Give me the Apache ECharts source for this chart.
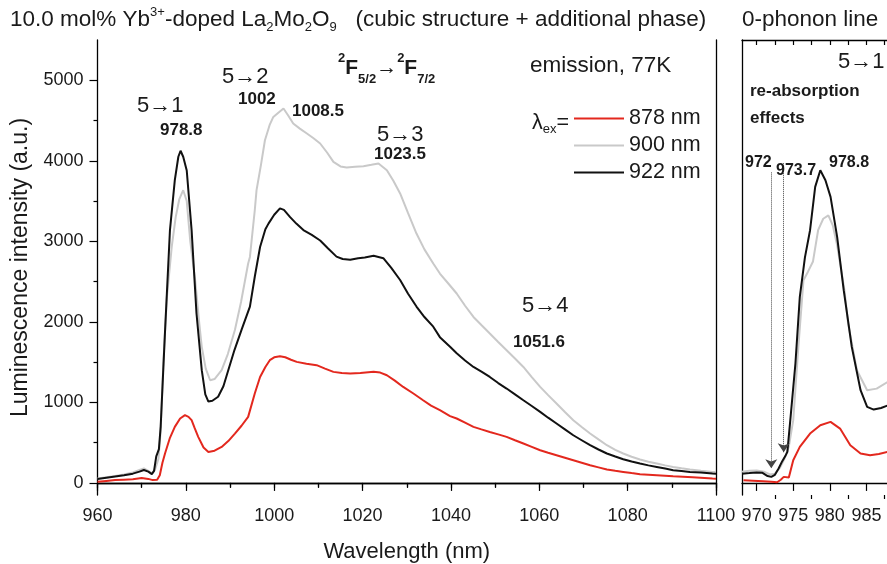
<!DOCTYPE html>
<html><head><meta charset="utf-8">
<script src="https://cdn.jsdelivr.net/npm/echarts@6/dist/echarts.min.js"></script>
<style>html,body{margin:0;padding:0;background:#fff}#c{width:887px;height:564px}</style>
</head><body><div id="c"></div>
<script>
// ---- data ----
const seriesNames = ['878 nm', '900 nm', '922 nm'];
const seriesColors = ['#e3281e', '#c9c9c9', '#111111'];

// main panel: wavelength (nm) / intensity (a.u.)
const wl878 = [960,962,964,966,968,970,971.5,972.5,973.5,974.1,974.7,975.3,976.4,977.5,978.7,979.8,980.6,981.3,982,982.8,984,985.1,986.5,988.1,989.6,991.1,992.6,994.1,995.6,996.8,998,999,1000,1001.3,1002.5,1003.8,1005.1,1007.3,1009.6,1011.5,1013.4,1015.3,1017.2,1019.5,1022.5,1024,1025.5,1027.3,1029.2,1031.5,1033.7,1035.5,1037.5,1039.8,1041.3,1043.2,1045.1,1046.9,1048.8,1050.7,1052.6,1054.5,1056.4,1058.3,1060.2,1062,1063.9,1065.8,1067.7,1069.6,1071.5,1073.4,1075.3,1077.2,1079,1080.9,1082.8,1086.6,1090.3,1094.7,1099.2,1100];
const int878 = [15,25,35,40,45,60,50,35,40,96,250,369,560,696,800,841,820,779,680,572,440,385,400,447,520,613,710,820,1110,1316,1440,1524,1560,1573,1560,1530,1503,1480,1462,1420,1379,1365,1358,1365,1379,1370,1337,1270,1192,1110,1027,960,903,830,800,748,696,665,633,603,572,530,489,448,406,375,344,313,282,251,220,193,166,150,137,122,108,95,83,70,55,53];

const wl900 = [960,962,964,966,968,969.5,970.5,971.5,972.3,973,973.8,974.3,974.9,975.7,976.8,977.7,978.5,979.4,980.2,981,982.1,983,983.6,984.5,985.5,986.5,988.1,989.5,991.1,992.5,994.1,994.5,995.6,996,997,997.9,999,999.8,1001,1002.1,1003.2,1004.3,1005.8,1007.4,1008.9,1010.4,1012,1013.4,1015,1016.4,1018.3,1020.2,1022,1023.6,1025.5,1027,1028.5,1030.3,1032.2,1034,1036,1037.5,1039.5,1041.3,1043.2,1045.1,1047,1048.8,1050.7,1052.6,1054.5,1056.4,1058.3,1060.2,1062,1063.9,1065.8,1067.7,1069.6,1071.5,1073.4,1075.3,1077.2,1079,1080.9,1082.8,1084.7,1086.6,1088.5,1090.3,1092.2,1094.1,1096.6,1099.2,1100];
const int900 = [55,70,85,105,130,160,180,150,120,160,300,650,1480,2300,2930,3300,3520,3635,3500,3000,2520,2000,1690,1420,1275,1290,1400,1600,1900,2250,2725,2806,3386,3635,3950,4255,4450,4545,4600,4650,4560,4463,4400,4339,4280,4215,4100,3986,3930,3917,3925,3933,3950,3966,3883,3750,3594,3350,3097,2900,2725,2600,2470,2352,2200,2061,1955,1855,1750,1648,1545,1440,1315,1192,1090,986,880,779,695,613,540,468,410,365,325,290,263,241,218,199,182,166,150,137,135];

const wl922 = [960,962,964,966,968,969.5,970.5,971.5,972.3,972.8,973.3,973.9,974.3,975.3,976.4,977.5,978.3,978.8,979.4,980.2,981.3,982.4,983.6,984.4,985.1,986,987.3,988.5,989.6,991,992.6,994.5,995.6,996.8,998,998.7,1000,1001.3,1002.2,1003.6,1005,1006.6,1008.5,1010.4,1012.2,1014.1,1015.5,1017.2,1019,1020.5,1022.5,1024.7,1026.5,1028.5,1030.3,1032.2,1034,1036,1037.5,1039.8,1041.3,1043.2,1045.1,1047,1048.8,1050.7,1052.6,1054.5,1056.4,1058.3,1060.2,1062,1063.9,1065.8,1067.7,1069.6,1071.5,1073.4,1075.3,1077.2,1079,1080.9,1082.8,1084.7,1086.6,1088.5,1090.3,1092.2,1094.1,1096.6,1099.2,1100];
const int922 = [50,65,80,95,115,140,160,140,110,150,330,420,700,1900,3140,3760,4050,4125,4050,3880,3140,2110,1400,1100,1010,1020,1070,1200,1400,1650,1900,2190,2560,2930,3150,3220,3330,3410,3390,3300,3220,3140,3080,3010,2910,2810,2780,2770,2790,2800,2820,2790,2670,2520,2350,2190,2060,1940,1810,1690,1610,1520,1440,1380,1316,1240,1172,1100,1027,955,882,810,738,665,592,530,468,415,365,328,294,265,241,218,199,178,158,148,137,128,117,115];

// 0-phonon line panel (zoomed)
const zwl878 = [968.2,969.5,970.9,972,972.8,973.3,973.7,974.4,975,975.9,977.3,978.7,980.1,981.4,982.8,984.2,985.5,986.7,987.9];
const zint878 = [34,28,21,15,8,40,75,67,282,447,613,717,758,675,468,365,344,360,385];
const zwl900 = [968,969,970,971,971.8,972.5,973.2,973.8,974.4,975,975.7,976.4,977,977.7,978.4,979.1,979.8,980.4,981,982,982.5,983.7,985.1,986.4,987.9];
const zint900 = [140,150,155,140,105,115,190,300,450,779,1689,2517,2620,2750,3138,3280,3322,3200,2950,2393,1980,1399,1151,1171,1254];
const zwl922 = [968,969,970,970.8,971.5,972,972.5,973,973.5,973.9,974.2,974.6,975.3,975.9,976.6,977.3,978,978.7,979.4,980.1,981,981.9,983,984.2,985.1,986,987,988];
const zint922 = [115,122,130,125,85,75,100,179,270,330,385,779,1483,2310,2800,3138,3676,3883,3759,3552,3055,2393,1689,1151,944,911,930,965];

// re-absorption arrows
const arrowWl = [972, 973.7];
const arrowTop = [3856, 3970];
const arrowEnd = [183, 380];

// tick values
const mainYTicks = [0,1000,2000,3000,4000,5000];
const mainYMinor = [500,1500,2500,3500,4500];
const zoomXTicks = [970,975,980,985,990];
const zoomXMinor = [972.5,977.5,982.5,987.5];
const zoomXTop = [970,972.5,975,977.5,980,982.5,985,987.5,990];

// ---- chart ----
const FF = "'Liberation Sans', Arial, Helvetica, sans-serif";
const TXT = '#1a1a1a';
const pairs = (x, y) => x.map((v, i) => [v, y[i]]);
const plain = v => String(v);
const chart = echarts.init(document.getElementById('c'), null, {renderer: 'canvas'});

const lineAx = {show: true, lineStyle: {color: '#000', width: 1.3}};
const mainX = [pairs(wl878, int878), pairs(wl900, int900), pairs(wl922, int922)];
const zoomX = [pairs(zwl878, zint878), pairs(zwl900, zint900), pairs(zwl922, zint922)];

const series = [];
for (let i = 0; i < 3; i++) {
  series.push({
    name: seriesNames[i], type: 'line', xAxisIndex: 0, yAxisIndex: 0,
    data: mainX[i], showSymbol: false, symbol: 'none', color: seriesColors[i],
    lineStyle: {width: 2, color: seriesColors[i]}, z: 3 + i
  });
}
for (let i = 0; i < 3; i++) {
  const s = {
    name: seriesNames[i], type: 'line', xAxisIndex: 2, yAxisIndex: 3,
    data: zoomX[i], showSymbol: false, symbol: 'none', color: seriesColors[i],
    lineStyle: {width: 2, color: seriesColors[i]}
  };
  if (i === 2) {
    s.markLine = {
      silent: true, symbol: ['none', 'arrow'], symbolSize: 9,
      lineStyle: {type: 'dotted', color: '#444', width: 1},
      label: {show: false},
      data: arrowWl.map((w, k) => [{coord: [w, arrowTop[k]]}, {coord: [w, arrowEnd[k]]}])
    };
  }
  series.push(s);
}

const T = (x, y, text, size, bold) => ({
  type: 'text', x: x, y: y, z: 100,
  style: {text: text, font: (bold ? 'bold ' : '') + size + 'px ' + FF, fill: TXT, verticalAlign: 'middle', align: 'left'}
});

const option = {
  animation: false,
  backgroundColor: '#fff',
  textStyle: {fontFamily: FF},
  grid: [
    {left: 97.5, top: 40, width: 618.5, height: 455, outerBoundsMode: 'none', containLabel: false},
    {left: 742, top: 40, width: 161, height: 455, outerBoundsMode: 'none', containLabel: false}
  ],
  legend: {
    data: seriesNames, orient: 'vertical', left: 574, top: 107, padding: 0,
    icon: 'rect', itemWidth: 50, itemHeight: 2, itemGap: 4,
    textStyle: {fontSize: 21.5, color: TXT, fontFamily: FF, lineHeight: 23, padding: [0, 0, 0, 0]}
  },
  xAxis: [
    {type: 'value', gridIndex: 0, min: 960, max: 1100, interval: 20,
     axisLine: lineAx, axisTick: {show: true, inside: false, length: 8, lineStyle: {color: '#000', width: 1.2}},
     minorTick: {show: true, splitNumber: 2, length: 4, lineStyle: {color: '#000', width: 1.2}},
     axisLabel: {fontSize: 18, color: TXT, margin: 12, fontFamily: FF, formatter: plain},
     splitLine: {show: false}, minorSplitLine: {show: false},
     name: 'Wavelength (nm)', nameLocation: 'middle', nameGap: 46,
     nameTextStyle: {fontSize: 22, color: TXT, fontFamily: FF}},
    {type: 'value', gridIndex: 0, position: 'top', min: 960, max: 1100, interval: 10,
     axisLine: lineAx, axisTick: {show: true, inside: true, length: 5, lineStyle: {color: '#000', width: 1.2}},
     axisLabel: {show: false}, splitLine: {show: false}},
    {type: 'value', gridIndex: 1, min: 968, max: 990,
     axisLine: lineAx,
     axisTick: {show: true, length: 8, customValues: zoomXTicks, lineStyle: {color: '#000', width: 1.2}},
     axisLabel: {fontSize: 18, color: TXT, margin: 12, customValues: zoomXTicks, fontFamily: FF, formatter: plain},
     splitLine: {show: false}},
    {type: 'value', gridIndex: 1, min: 968, max: 990, position: 'bottom',
     axisLine: {show: false},
     axisTick: {show: true, length: 4, customValues: zoomXMinor, lineStyle: {color: '#000', width: 1.2}},
     axisLabel: {show: false}, splitLine: {show: false}},
    {type: 'value', gridIndex: 1, min: 968, max: 990, position: 'top',
     axisLine: lineAx,
     axisTick: {show: true, inside: true, length: 5, customValues: zoomXTop, lineStyle: {color: '#000', width: 1.2}},
     axisLabel: {show: false}, splitLine: {show: false}}
  ],
  yAxis: [
    {type: 'value', gridIndex: 0, min: -150, max: 5500,
     axisLine: lineAx,
     axisTick: {show: true, length: 8, customValues: mainYTicks, lineStyle: {color: '#000', width: 1.2}},
     axisLabel: {fontSize: 18, color: TXT, margin: 14, customValues: mainYTicks, fontFamily: FF, formatter: plain},
     splitLine: {show: false},
     name: 'Luminescence intensity (a.u.)', nameLocation: 'middle', nameGap: 65,
     nameTextStyle: {fontSize: 23, color: TXT, fontFamily: FF}},
    {type: 'value', gridIndex: 0, min: -150, max: 5500, position: 'left',
     axisLine: {show: false},
     axisTick: {show: true, length: 4, customValues: mainYMinor, lineStyle: {color: '#000', width: 1.2}},
     axisLabel: {show: false}, splitLine: {show: false}},
    {type: 'value', gridIndex: 0, min: -150, max: 5500, position: 'right',
     axisLine: lineAx, axisTick: {show: false}, axisLabel: {show: false}, splitLine: {show: false}},
    {type: 'value', gridIndex: 1, min: -150, max: 5500, position: 'left',
     axisLine: lineAx, axisTick: {show: false}, axisLabel: {show: false}, splitLine: {show: false}}
  ],
  graphic: [
    {type: 'text', x: 10, y: 20, z: 100, style: {
      text: '{m|10.0 mol% Yb}{sup|3+}{m|-doped La}{sub|2}{m|Mo}{sub|2}{m|O}{sub|9}{m|   (cubic structure + additional phase)}',
      fill: TXT, verticalAlign: 'middle', align: 'left',
      rich: {
        m: {fontSize: 22.5, fontFamily: FF, lineHeight: 28, fill: TXT},
        sup: {fontSize: 13, fontFamily: FF, lineHeight: 13, verticalAlign: 'top', fill: TXT},
        sub: {fontSize: 13, fontFamily: FF, lineHeight: 13, verticalAlign: 'bottom', fill: TXT}
      }}},
    T(742, 20, '0-phonon line', 22.5),
    T(137, 106, '5\u21921', 22),
    T(160, 130, '978.8', 17, true),
    T(222, 77, '5\u21922', 22),
    T(238, 99, '1002', 17, true),
    T(292, 111, '1008.5', 17, true),
    {type: 'text', x: 338, y: 68, z: 100, style: {
      text: '{sup|2}{m|F}{sub|5/2}{m|\u2192}{sup|2}{m|F}{sub|7/2}',
      fill: TXT, verticalAlign: 'middle', align: 'left',
      rich: {
        m: {fontSize: 21, fontWeight: 'bold', fontFamily: FF, lineHeight: 36, fill: TXT},
        sup: {fontSize: 13, fontWeight: 'bold', fontFamily: FF, lineHeight: 13, verticalAlign: 'top', padding: [2, 0, 0, 0], fill: TXT},
        sub: {fontSize: 13, fontWeight: 'bold', fontFamily: FF, lineHeight: 13, verticalAlign: 'bottom', fill: TXT}
      }}},
    T(377, 135, '5\u21923', 22),
    T(374, 154, '1023.5', 17, true),
    T(530, 66, 'emission, 77K', 22.5),
    T(522, 306, '5\u21924', 22),
    T(513, 342, '1051.6', 17, true),
    {type: 'text', x: 532, y: 123, z: 100, style: {
      text: '{m|\u03bb}{sub|ex}{m|=}',
      fill: TXT, verticalAlign: 'middle', align: 'left',
      rich: {
        m: {fontSize: 21.5, fontFamily: FF, lineHeight: 26, fill: TXT},
        sub: {fontSize: 13, fontFamily: FF, lineHeight: 13, verticalAlign: 'bottom', fill: TXT}
      }}},
    T(838, 62, '5\u21921', 22),
    T(750, 91, 're-absorption', 17, true),
    T(750, 118, 'effects', 17, true),
    T(745, 163, '972', 16, true),
    T(776, 171, '973.7', 16, true),
    T(829, 163, '978.8', 16, true)
  ],
  series: series
};
chart.setOption(option);
</script></body></html>
